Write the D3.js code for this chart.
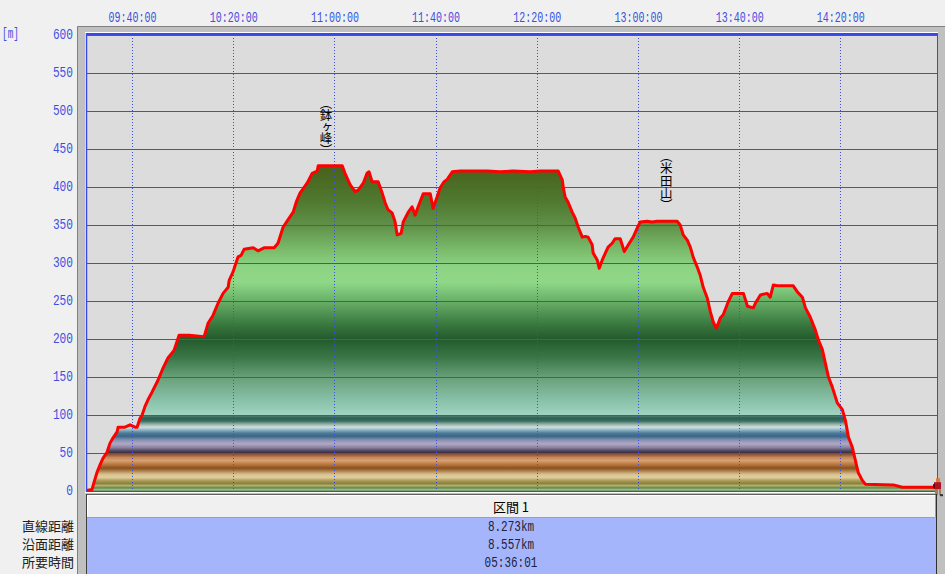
<!DOCTYPE html>
<html><head><meta charset="utf-8">
<script src="https://cdn.jsdelivr.net/npm/d3@7"></script>
<style>body{margin:0;background:#f0f0f0;overflow:hidden} svg{display:block}</style>
</head><body><svg id="c" width="945" height="574"></svg>
<script>
// ---------------- DATA ----------------
const startTime = "09:22:12";
const endTime = "14:58:13";
const times = ["09:22:12","09:22:36","09:24:12","09:24:36","09:26:12","09:27:18","09:28:30","09:30:06","09:31:18","09:32:30","09:34:06","09:34:30","09:37:12","09:39:12","09:41:12","09:42:00","09:43:12","09:44:00","09:45:06","09:46:18","09:47:54","09:50:18","09:52:18","09:54:12","09:56:36","09:58:36","10:02:30","10:08:30","10:10:06","10:12:00","10:14:00","10:16:00","10:18:00","10:18:24","10:19:54","10:21:06","10:21:54","10:23:06","10:24:18","10:27:54","10:29:48","10:32:12","10:36:12","10:37:42","10:39:42","10:41:42","10:43:42","10:44:54","10:46:24","10:49:12","10:51:12","10:53:12","10:53:36","11:03:06","11:04:12","11:06:12","11:08:12","11:09:24","11:11:24","11:12:54","11:13:42","11:14:54","11:17:18","11:18:54","11:20:06","11:21:12","11:22:48","11:24:00","11:24:48","11:26:24","11:27:12","11:29:12","11:30:42","11:31:54","11:33:06","11:35:06","11:37:54","11:39:00","11:40:36","11:41:48","11:43:24","11:44:36","11:46:36","11:49:42","11:54:54","12:00:24","12:05:30","12:10:42","12:17:24","12:21:24","12:28:30","12:30:06","12:30:30","12:31:12","12:32:24","12:34:00","12:35:12","12:36:24","12:38:00","12:39:12","12:40:18","12:41:54","12:42:18","12:43:54","12:44:42","12:45:54","12:47:06","12:48:12","12:49:48","12:51:00","12:53:00","12:54:36","12:56:12","12:58:06","12:59:42","13:00:54","13:03:42","13:05:36","13:07:36","13:15:30","13:16:42","13:17:54","13:19:30","13:20:42","13:21:54","13:23:24","13:24:36","13:25:48","13:27:24","13:28:36","13:29:48","13:31:00","13:32:36","13:33:42","13:35:42","13:37:18","13:41:42","13:43:18","13:45:36","13:46:24","13:48:24","13:51:06","13:52:18","13:53:30","13:55:06","14:01:24","14:03:00","14:05:00","14:06:12","14:08:06","14:10:06","14:11:18","14:12:54","14:14:06","14:15:18","14:16:48","14:18:48","14:20:48","14:22:00","14:23:12","14:24:42","14:25:54","14:27:06","14:28:42","14:29:54","14:41:00","14:44:30","14:58:13"];
const elevations = [1,1,2,7,25,34,43,51,63,70,78,84,84,87,84,84,96,100,111,120,130,146,162,175,185,205,205,203,221,231,247,260,268,277,288,300,308,310,318,320,316,320,320,326,347,357,367,380,392,405,418,421,428,428,418,403,394,396,405,418,420,407,407,392,379,370,366,354,337,339,354,367,374,363,374,391,391,372,387,399,407,410,420,421,421,421,420,421,420,421,421,409,399,387,380,367,359,347,334,335,334,324,313,304,293,304,313,321,326,332,332,315,324,334,346,354,355,354,355,355,350,337,330,321,307,295,284,268,254,236,222,214,228,232,249,260,260,243,241,247,258,260,255,271,270,270,262,255,241,229,212,199,186,168,150,137,116,107,93,71,58,41,24,14,9,8,5,5];
const yTicks = [0,50,100,150,200,250,300,350,400,450,500,550,600];
const xTickLabels = ["09:40:00","10:20:00","11:00:00","11:40:00","12:20:00","13:00:00","13:40:00","14:20:00"];
const peakNames = ["（鉢ヶ峰）","（米田山）"];
const peakTimes = ["10:56:42","13:11:12"];
const peakElevations = [428,355];
const sectionName = "区間 1";
const rowLabels = ["直線距離","沿面距離","所要時間"];
const rowValues = ["8.273km","8.557km","05:36:01"];
const unitLabel = "[m]";

// ---------------- CHART ----------------
const svg = d3.select("#c");
const parse = d3.timeParse("%H:%M:%S");
const L = 87, R = 937, T = 35, B = 491;
const x = d3.scaleTime().domain([parse(startTime), parse(endTime)]).range([L, R]);
const y = d3.scaleLinear().domain([0, 600]).range([B, T]);
const blue = "#3c50e0";
const data = times.map((t, i) => ({t: parse(t), e: elevations[i]}));

// frame
svg.append("rect").attr("x", 77).attr("y", 26).attr("width", 868).attr("height", 548).attr("fill", "#c0c0c0");
svg.append("path").attr("d", "M77.5,574V26.5H945").attr("stroke", "#808080").attr("fill", "none");
svg.append("rect").attr("x", 85).attr("y", 32).attr("width", 853).attr("height", 461).attr("fill", "#ffffff");
svg.append("rect").attr("x", 86).attr("y", 33).attr("width", 851).attr("height", B - 33).attr("fill", "#dcdcdc");

// gradient
const stops = [
  [0,"#6a9060"],[2,"#a0b890"],[4,"#5a8a48"],[7,"#b8b070"],[10,"#8a8038"],[14,"#b0a060"],[18,"#e0d0a0"],
  [22,"#d8c090"],[26,"#b08850"],[30,"#8a5020"],[35,"#b87840"],[40,"#d8a070"],[44,"#c88858"],[48,"#8a5838"],
  [50,"#402840"],[53,"#504868"],[57,"#8a8098"],[62,"#b0a8c8"],[67,"#8a90b0"],[72,"#3a6888"],[76,"#4a7898"],
  [80,"#8ab0c0"],[84,"#d0e0e0"],[88,"#90b0a8"],[92,"#3a7060"],[96,"#2e5e50"],[99.5,"#5a8a78"],[100,"#a0d4c0"],
  [120,"#88c0a8"],[150,"#68a078"],[175,"#3a7848"],[200,"#245a2c"],[220,"#3a7a40"],[250,"#68b068"],
  [275,"#90d888"],[295,"#8cd484"],[320,"#78b868"],[350,"#609048"],[380,"#507a30"],[410,"#4a6a22"],[430,"#4a5e1e"]
];
const grad = svg.append("defs").append("linearGradient").attr("id", "g")
  .attr("gradientUnits", "userSpaceOnUse").attr("x1", 0).attr("x2", 0).attr("y1", y(0)).attr("y2", y(430));
grad.selectAll("stop").data(stops).join("stop")
  .attr("offset", d => d[0] / 430).attr("stop-color", d => d[1]);

// area
svg.append("path").datum(data)
  .attr("d", d3.area().x(d => x(d.t)).y0(y(0)).y1(d => y(d.e)))
  .attr("fill", "url(#g)");

// horizontal grid lines
svg.append("g").selectAll("line").data(yTicks).join("line")
  .attr("x1", L).attr("x2", R)
  .attr("y1", d => Math.round(y(d)) + 0.5).attr("y2", d => Math.round(y(d)) + 0.5)
  .style("stroke", blue).style("stroke-width", "1px");

// y labels
const gy = svg.append("g").attr("transform", `translate(${L},0)`)
  .call(d3.axisLeft(y).tickValues(yTicks).tickSize(0).tickPadding(14));
gy.select(".domain").remove();
gy.selectAll("line").remove();
gy.selectAll("text").attr("fill", blue).attr("font-family", "Liberation Mono, monospace")
  .attr("font-size", 14.5).attr("dy", "0.25em")
  .attr("textLength", function(d){ return String(d).length * 6.7; }).attr("lengthAdjust", "spacingAndGlyphs");

// x grid + labels
const gx = svg.append("g").attr("transform", `translate(0,${T})`)
  .call(d3.axisTop(x).tickValues(xTickLabels.map(parse)).tickFormat(d3.timeFormat("%H:%M:%S"))
    .tickSize(-(B - T)).tickPadding(13));
gx.select(".domain").remove();
gx.selectAll("line").style("stroke", blue).attr("stroke-width", 1).attr("stroke-dasharray", "1,2")
  .attr("shape-rendering", "crispEdges");
gx.selectAll("text").attr("fill", blue).attr("font-family", "Liberation Mono, monospace")
  .attr("font-size", 14.5).attr("dy", "0")
  .attr("textLength", 48).attr("lengthAdjust", "spacingAndGlyphs");

svg.append("text").attr("x", 2).attr("y", 38).attr("fill", blue)
  .attr("font-family", "Liberation Mono, monospace").attr("font-size", 14)
  .attr("textLength", 17).attr("lengthAdjust", "spacingAndGlyphs").text(unitLabel);

// plot border
svg.append("line").attr("x1", 86).attr("x2", R + 1).attr("y1", 34).attr("y2", 34).attr("stroke", "#3a48e8").attr("stroke-width", 2);
svg.append("line").attr("x1", 86.5).attr("x2", 86.5).attr("y1", 33).attr("y2", B + 1).attr("stroke", "#3a48e8").attr("stroke-width", 1.5);
svg.append("line").attr("x1", R + 0.5).attr("x2", R + 0.5).attr("y1", 33).attr("y2", B + 1).attr("stroke", "#3a48e8").attr("stroke-width", 1);
svg.append("line").attr("x1", 86).attr("x2", R + 1).attr("y1", B + 0.5).attr("y2", B + 0.5).attr("stroke", "#3a48e8").attr("stroke-width", 1);

// profile line
svg.append("path").datum(data)
  .attr("d", d3.line().x(d => x(d.t)).y(d => y(d.e)))
  .attr("fill", "none").attr("stroke", "#ff0000").attr("stroke-width", 3).attr("stroke-linejoin", "round");

// peak labels (vertical)
peakNames.forEach((n, i) => {
  svg.append("text")
    .attr("x", x(parse(peakTimes[i]))).attr("y", y(peakElevations[i]) - 15)
    .attr("font-family", "Noto Sans CJK JP").attr("font-size", 12.5).attr("fill", "#000")
    .style("writing-mode", "vertical-rl").style("font-feature-settings", "'vpal' 1")
    .attr("text-anchor", "end").text(n);
});

// walker icon
const w = svg.append("g").attr("transform", `translate(${R - 4},${y(5) - 9})`);
w.append("rect").attr("x", 3).attr("y", 0).attr("width", 4).attr("height", 4).attr("fill", "#e07a30");
w.append("rect").attr("x", 1).attr("y", 4).attr("width", 7).attr("height", 7).attr("fill", "#b01020");
w.append("rect").attr("x", 0).attr("y", 6).attr("width", 2).attr("height", 4).attr("fill", "#600010");
w.append("rect").attr("x", 2).attr("y", 11).attr("width", 3).attr("height", 6).attr("fill", "#a08050");
w.append("rect").attr("x", 6).attr("y", 11).attr("width", 2).attr("height", 6).attr("fill", "#a08050");
w.append("rect").attr("x", 1).attr("y", 16).attr("width", 3).attr("height", 2).attr("fill", "#303030");
w.append("rect").attr("x", 7).attr("y", 16).attr("width", 3).attr("height", 2).attr("fill", "#303030");

// table
svg.append("rect").attr("x", 86).attr("y", 494).attr("width", 850).attr("height", 24).attr("fill", "#f0f0f0");
svg.append("path").attr("d", "M86.5,518V494.5H936").attr("stroke", "#606060").attr("fill", "none");
svg.append("path").attr("d", "M87.5,517V495.5H935").attr("stroke", "#ffffff").attr("fill", "none");
svg.append("path").attr("d", "M87,517.5H935.5V495").attr("stroke", "#a0a0a0").attr("fill", "none");
svg.append("rect").attr("x", 86).attr("y", 518).attr("width", 851).attr("height", 56).attr("fill", "#a5b5fb");
svg.append("line").attr("x1", 86.5).attr("x2", 86.5).attr("y1", 494).attr("y2", 574).attr("stroke", "#404040");
svg.append("line").attr("x1", 936.5).attr("x2", 936.5).attr("y1", 494).attr("y2", 574).attr("stroke", "#303030");

const cx = (86 + 936) / 2;
svg.append("text").attr("x", cx).attr("y", 512).attr("text-anchor", "middle")
  .attr("font-family", "Noto Sans CJK JP").attr("font-size", 13).attr("fill", "#000").text(sectionName);
const rowY = [531, 549, 567];
rowLabels.forEach((lab, i) => {
  svg.append("text").attr("x", 74).attr("y", rowY[i]).attr("text-anchor", "end")
    .attr("font-family", "Noto Sans CJK JP").attr("font-size", 13).attr("fill", "#202020").text(lab);
  svg.append("text").attr("x", cx).attr("y", rowY[i]).attr("text-anchor", "middle")
    .attr("font-family", "Liberation Mono, monospace").attr("font-size", 14).attr("fill", "#202040")
    .attr("textLength", rowValues[i].length * 6.6).attr("lengthAdjust", "spacingAndGlyphs").text(rowValues[i]);
});
</script></body></html>
